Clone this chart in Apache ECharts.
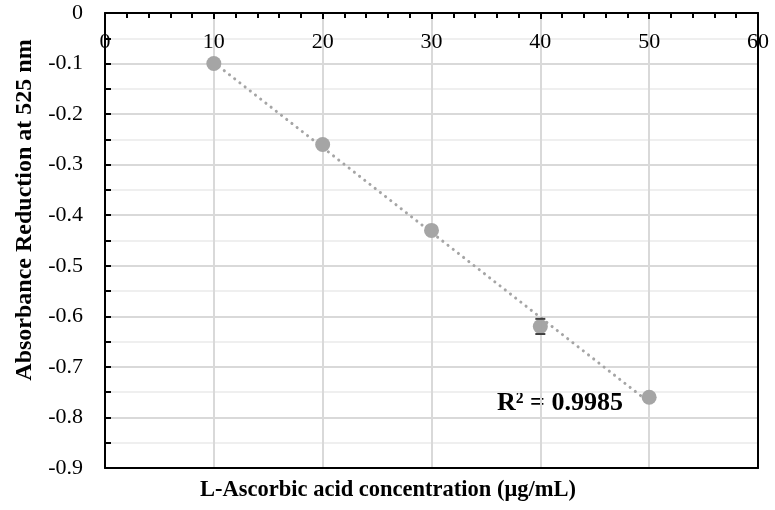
<!DOCTYPE html>
<html>
<head>
<meta charset="utf-8">
<script src="https://cdn.jsdelivr.net/npm/echarts@6/dist/echarts.min.js"></script>
<style>
  html, body { margin: 0; padding: 0; background: #fff; }
  #chart { width: 775px; height: 510px; }
</style>
</head>
<body>
<div id="chart"></div>
<script>
// Concentration of L-ascorbic acid (µg/mL) and measured absorbance change at 525 nm
const concentrations = [10, 20, 30, 40, 50];
const absorbance = [-0.10, -0.26, -0.43, -0.62, -0.76];
const absorbanceError = [0, 0, 0, 0.015, 0];
const xTicks = [0, 10, 20, 30, 40, 50, 60];
const yTicks = [0, -0.1, -0.2, -0.3, -0.4, -0.5, -0.6, -0.7, -0.8, -0.9];
const rSquaredLabel = 'R² = 0.9985';
const xTitle = 'L-Ascorbic acid concentration (μg/mL)';
const yTitle = 'Absorbance Reduction at 525 nm';

// Least-squares linear fit for the trendline
function linearFit(xs, ys) {
  const n = xs.length;
  const mx = xs.reduce((a, b) => a + b, 0) / n;
  const my = ys.reduce((a, b) => a + b, 0) / n;
  let sxy = 0, sxx = 0;
  for (let i = 0; i < n; i++) {
    sxy += (xs[i] - mx) * (ys[i] - my);
    sxx += (xs[i] - mx) * (xs[i] - mx);
  }
  const slope = sxy / sxx;
  return { slope, intercept: my - slope * mx };
}
const fit = linearFit(concentrations, absorbance);
const xFirst = concentrations[0];
const xLast = concentrations[concentrations.length - 1];
const trendData = [
  [xFirst, fit.intercept + fit.slope * xFirst],
  [xLast, fit.intercept + fit.slope * xLast]
];

const points = concentrations.map((x, i) => [x, absorbance[i]]);
const errorData = concentrations.map((x, i) => [x, absorbance[i], absorbanceError[i]]);

const serif = 'Liberation Serif';
const markerColor = '#A5A5A5';

const chart = echarts.init(document.getElementById('chart'), null, { renderer: 'canvas' });

chart.setOption({
  animation: false,
  backgroundColor: '#fff',
  grid: { left: 105, top: 13, right: 17, bottom: 42, containLabel: false, outerBoundsMode: 'none' },
  xAxis: [
    {
      type: 'value',
      position: 'top',
      min: xTicks[0],
      max: xTicks[xTicks.length - 1],
      interval: 10,
      axisLine: { show: true, onZero: false, lineStyle: { color: '#000', width: 2 } },
      axisTick: { show: true, inside: true, length: 6, lineStyle: { color: '#000', width: 2 } },
      minorTick: { show: true, splitNumber: 5, length: 5, lineStyle: { color: '#000', width: 2 } },
      axisLabel: {
        inside: true, margin: 18, color: '#000', fontFamily: serif, fontSize: 22,
        showMinLabel: true, showMaxLabel: true
      },
      splitLine: { show: true, lineStyle: { color: '#D9D9D9', width: 2 } }
    },
    {
      type: 'value',
      position: 'bottom',
      min: xTicks[0],
      max: xTicks[xTicks.length - 1],
      axisLine: { show: true, onZero: false, lineStyle: { color: '#000', width: 2 } },
      axisTick: { show: false },
      axisLabel: { show: false },
      splitLine: { show: false }
    }
  ],
  yAxis: [
    {
      type: 'value',
      position: 'left',
      min: yTicks[yTicks.length - 1],
      max: yTicks[0],
      interval: 0.1,
      axisLine: { show: true, onZero: false, lineStyle: { color: '#000', width: 2 } },
      axisTick: { show: true, inside: true, length: 6, lineStyle: { color: '#000', width: 2 } },
      minorTick: { show: true, splitNumber: 2, length: 6, lineStyle: { color: '#000', width: 2 } },
      axisLabel: {
        margin: 22, color: '#000', fontFamily: serif, fontSize: 22,
        showMinLabel: true, showMaxLabel: true,
        formatter: v => (Math.abs(v) < 1e-9 ? '0' : String(Math.round(v * 10) / 10))
      },
      splitLine: { show: true, lineStyle: { color: '#D9D9D9', width: 2 } },
      minorSplitLine: { show: true, lineStyle: { color: '#EFEFEF', width: 2 } }
    },
    {
      type: 'value',
      position: 'right',
      min: yTicks[yTicks.length - 1],
      max: yTicks[0],
      axisLine: { show: true, onZero: false, lineStyle: { color: '#000', width: 2 } },
      axisTick: { show: false },
      axisLabel: { show: false },
      splitLine: { show: false }
    }
  ],
  graphic: [
    {
      type: 'text',
      x: 25,
      y: 210,
      rotation: Math.PI / 2,
      style: {
        text: yTitle,
        fill: '#000',
        font: 'bold 24px "Liberation Serif"',
        textAlign: 'center',
        textVerticalAlign: 'middle'
      }
    },
    {
      type: 'text',
      x: 388,
      y: 490,
      style: {
        text: xTitle,
        fill: '#000',
        font: 'bold 22.5px "Liberation Serif"',
        textAlign: 'center',
        textVerticalAlign: 'middle'
      }
    },
    {
      type: 'text',
      x: 497,
      y: 403,
      style: {
        text: rSquaredLabel,
        fill: '#000',
        font: 'bold 26px "Liberation Serif"',
        textAlign: 'left',
        textVerticalAlign: 'middle'
      }
    }
  ],
  series: [
    {
      name: 'Linear fit',
      type: 'line',
      xAxisIndex: 0,
      yAxisIndex: 0,
      data: trendData,
      symbol: 'none',
      z: 2,
      lineStyle: { color: markerColor, width: 3, type: [0.1, 6.5], cap: 'round' }
    },
    {
      name: 'Absorbance',
      type: 'scatter',
      xAxisIndex: 0,
      yAxisIndex: 0,
      data: points,
      symbol: 'circle',
      symbolSize: 15,
      z: 3,
      itemStyle: { color: markerColor, opacity: 1 }
    },
    {
      name: 'Error',
      type: 'custom',
      xAxisIndex: 0,
      yAxisIndex: 0,
      data: errorData,
      z: 4,
      renderItem: function (params, api) {
        const err = api.value(2);
        if (!err) return null;
        const x = api.value(0);
        const y = api.value(1);
        const top = api.coord([x, y + err]);
        const bottom = api.coord([x, y - err]);
        const half = 5;
        const style = { stroke: '#404040', lineWidth: 2 };
        return {
          type: 'group',
          children: [
            { type: 'line', shape: { x1: top[0], y1: top[1], x2: bottom[0], y2: bottom[1] }, style: { stroke: markerColor, lineWidth: 2 } },
            { type: 'line', shape: { x1: top[0] - half, y1: top[1], x2: top[0] + half, y2: top[1] }, style },
            { type: 'line', shape: { x1: bottom[0] - half, y1: bottom[1], x2: bottom[0] + half, y2: bottom[1] }, style }
          ]
        };
      }
    }
  ]
});
</script>
</body>
</html>
